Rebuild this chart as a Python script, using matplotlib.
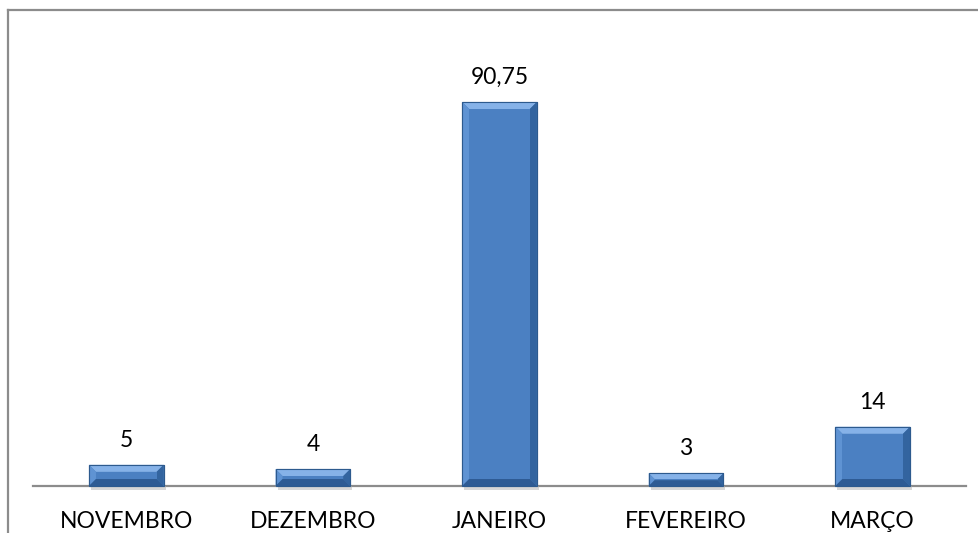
import matplotlib
matplotlib.use("Agg")
import matplotlib.pyplot as plt
from matplotlib.patches import Polygon, Rectangle
from matplotlib.lines import Line2D
from matplotlib.transforms import IdentityTransform

categories = ["NOVEMBRO", "DEZEMBRO", "JANEIRO", "FEVEREIRO", "MARÇO"]
values = [5, 4, 90.75, 3, 14]
value_labels = ["5", "4", "90,75", "3", "14"]

W, H, DPI = 979, 533, 100
fig = plt.figure(figsize=(W / DPI, H / DPI), dpi=DPI)
plt.rcParams['font.family'] = ['Lato', 'DejaVu Sans']

# axes: left 33px, right 966px, bottom y=486px, top y=40px
ax_left, ax_right = 33, 966
ax_bottom_px, ax_top_px = 486, 40
ax = fig.add_axes([ax_left / W, (H - ax_bottom_px) / H,
                   (ax_right - ax_left) / W, (ax_bottom_px - ax_top_px) / H])
ymax = 90.75 * (ax_bottom_px - ax_top_px) / (ax_bottom_px - 102)
ax.set_xlim(-0.5, len(categories) - 0.5)
ax.set_ylim(0, ymax)
for s in ["top", "right", "left"]:
    ax.spines[s].set_visible(False)
ax.spines["bottom"].set_color("#8c8c8c")
ax.spines["bottom"].set_linewidth(1.6)
ax.set_yticks([])
ax.set_xticks(range(len(categories)))
ax.set_xticklabels(categories, fontsize=16.5, color="black")
ax.tick_params(axis="x", length=0, pad=18)

bars = ax.bar(range(len(categories)), values, width=0.40, color="#4a7ebb",
              edgecolor="#2d5a8e", linewidth=0.8, zorder=3)

for i, (v, lab) in enumerate(zip(values, value_labels)):
    ax.annotate(lab, (i, v), xytext=(0, 10), textcoords="offset points",
                ha="center", va="bottom", fontsize=16.5, color="black")

# bevel effect drawn in pixel coordinates
fig.canvas.draw()
b = 7  # bevel size in px
for bar in bars:
    ext = bar.get_window_extent()
    x0, y0, x1, y1 = ext.x0, ext.y0, ext.x1, ext.y1
    bb = min(b, (y1 - y0) / 2.2)
    # shadow
    fig.add_artist(Rectangle((x0 + 2, y0 - 4), x1 - x0, 4, transform=IdentityTransform(),
                             facecolor="#b0b0b0", alpha=0.5, edgecolor="none", zorder=2))
    top = Polygon([(x0, y1), (x1, y1), (x1 - bb, y1 - bb), (x0 + bb, y1 - bb)],
                  closed=True, transform=IdentityTransform(), facecolor="#86b2e8",
                  edgecolor="none", zorder=5)
    left = Polygon([(x0, y1), (x0 + bb, y1 - bb), (x0 + bb, y0 + bb), (x0, y0)],
                   closed=True, transform=IdentityTransform(), facecolor="#5f93d3",
                   edgecolor="none", zorder=5)
    right = Polygon([(x1, y1), (x1 - bb, y1 - bb), (x1 - bb, y0 + bb), (x1, y0)],
                    closed=True, transform=IdentityTransform(), facecolor="#33649f",
                    edgecolor="none", zorder=5)
    bottom = Polygon([(x0, y0), (x0 + bb, y0 + bb), (x1 - bb, y0 + bb), (x1, y0)],
                     closed=True, transform=IdentityTransform(), facecolor="#2e5b94",
                     edgecolor="none", zorder=5)
    face = Rectangle((x0 + bb, y0 + bb), x1 - x0 - 2 * bb, y1 - y0 - 2 * bb,
                     transform=IdentityTransform(), facecolor="#4b80c2",
                     edgecolor="none", zorder=5)
    outline = Rectangle((x0, y0), x1 - x0, y1 - y0, transform=IdentityTransform(),
                        facecolor="none", edgecolor="#2d5a8e", linewidth=0.8, zorder=6)
    for p in (top, left, right, bottom, face, outline):
        fig.add_artist(p)

# outer chart border (partially cropped)
fig.add_artist(Line2D([8 / W, 1.0], [1 - 10 / H, 1 - 10 / H], transform=fig.transFigure,
                      color="#8c8c8c", linewidth=1.6))
fig.add_artist(Line2D([8 / W, 8 / W], [0, 1 - 10 / H], transform=fig.transFigure,
                      color="#8c8c8c", linewidth=1.6))

fig.savefig("out.png", dpi=DPI)
